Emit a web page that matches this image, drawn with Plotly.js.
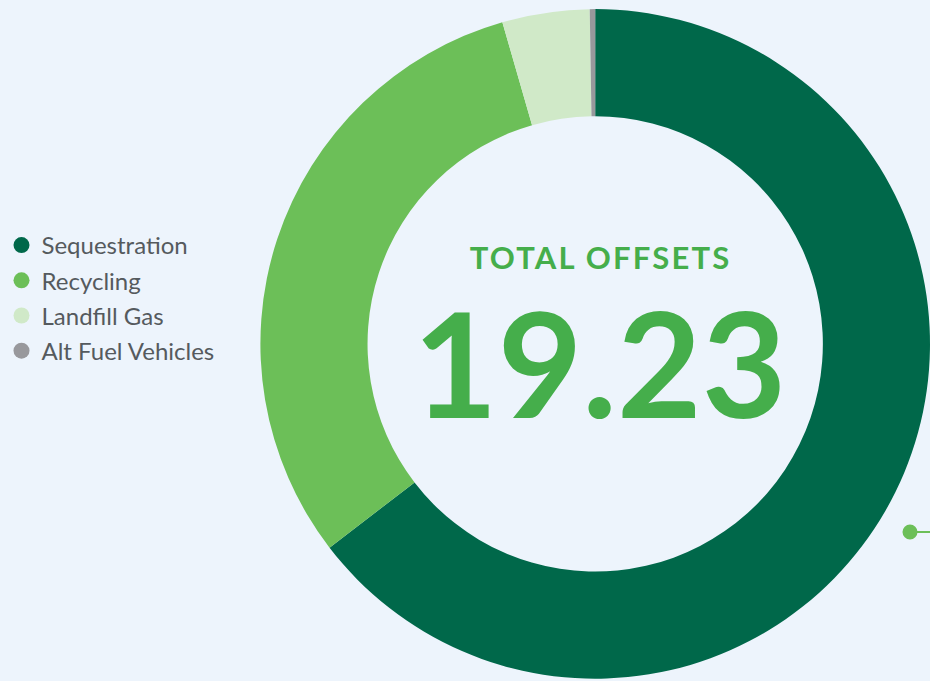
<!DOCTYPE html>
<html>
<head>
<meta charset="utf-8">
<script src="https://cdn.plot.ly/plotly-3.0.1.min.js"></script>
<style>
html,body{margin:0;padding:0;background:#edf4fc;}
#chart{width:930px;height:681px;}
.annotation[data-index="0"] text{letter-spacing:2.2px;}
</style>
</head>
<body>
<div id="chart"></div>
<script>
const categories = ["Sequestration", "Recycling", "Landfill Gas", "Alt Fuel Vehicles"];
const values = [12.42, 5.95, 0.81, 0.05];
const colors = ["#00684a", "#6cbf58", "#d0e9c8", "#98989c"];
const centerTitle = "TOTAL OFFSETS";
const totalLabel = "19.23";

const traces = [{
  type: "pie",
  labels: categories,
  values: values,
  marker: {colors: colors, line: {width: 0}},
  hole: 0.68,
  sort: false,
  direction: "clockwise",
  rotation: 0,
  textinfo: "none",
  hoverinfo: "label+value",
  showlegend: false,
  domain: {x: [0.28, 1], y: [0.003, 0.987]}
}];
categories.forEach((c, i) => {
  traces.push({
    type: "scatter", mode: "markers", x: [null], y: [null],
    name: c, legendgroup: "g" + i,
    marker: {color: colors[i], size: 16, symbol: "circle"},
    hoverinfo: "skip"
  });
});

const layout = {
  width: 930, height: 681,
  margin: {l: 0, r: 0, t: 0, b: 0},
  paper_bgcolor: "#edf4fc",
  plot_bgcolor: "rgba(0,0,0,0)",
  font: {family: "Lato, 'Open Sans', sans-serif", color: "#555a5e"},
  xaxis: {visible: false, domain: [0, 0.2]},
  yaxis: {visible: false},
  showlegend: true,
  legend: {
    x: 1.5/930, xanchor: "left", y: 1 - 223/681, yanchor: "top",
    font: {size: 24, color: "#555a5e", family: "Lato, sans-serif"},
    bgcolor: "rgba(0,0,0,0)", tracegroupgap: 1, itemclick: false
  },
  annotations: [
    {text: "<b>" + centerTitle + "</b>", x: 0.646, y: 1 - 257/681, xref: "paper", yref: "paper",
     showarrow: false, font: {size: 31, color: "#45ae4b", family: "Lato, sans-serif"}},
    {text: "<b>" + totalLabel + "</b>", x: 0.645, y: 1 - 361/681, xref: "paper", yref: "paper",
     showarrow: false, font: {size: 146, color: "#45ae4b", family: "Lato, sans-serif"}}
  ],
  shapes: [
    {type: "line", xref: "paper", yref: "paper", x0: 910/930, x1: 1, y0: 1 - 532/681, y1: 1 - 532/681,
     line: {color: "#6cbf58", width: 2}},
    {type: "circle", xref: "paper", yref: "paper", x0: 902.5/930, x1: 917.5/930, y0: 1 - 539.5/681, y1: 1 - 524.5/681,
     fillcolor: "#6cbf58", line: {width: 0}}
  ]
};
Plotly.newPlot("chart", traces, layout, {displayModeBar: false});
</script>
</body>
</html>
